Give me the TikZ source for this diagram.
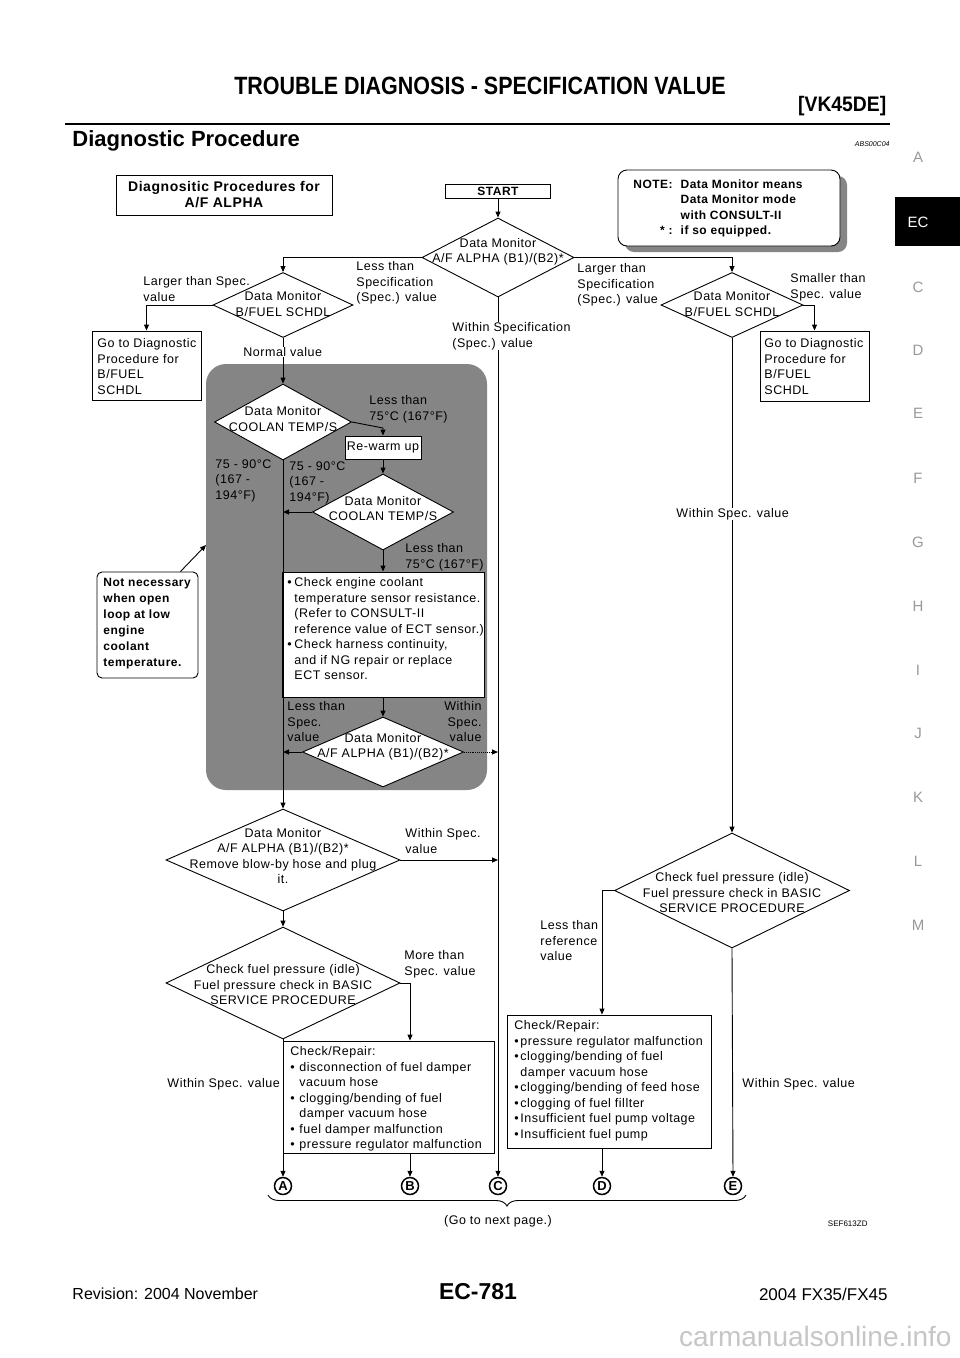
\documentclass[tikz,border=0pt]{standalone}
\usepackage{graphicx}
\usepackage{fontspec}
\setmainfont{Liberation Sans}[LetterSpace=4]
\newfontfamily\headfont{Liberation Sans}
\usetikzlibrary{arrows.meta,shapes.geometric,decorations.pathreplacing}
\definecolor{HatchClr}{gray}{0.52}
\definecolor{TabClr}{gray}{0.6}
\newcommand\flowbullet[1][8pt]{\makebox[#1][l]{\textbullet}}

\begin{document}
\begin{tikzpicture}[x=1pt,y=-1pt,font=\fontsize{12.5}{15.5}\selectfont,line width=0.9pt,
  arr/.style={-{Triangle[length=6pt,width=5pt]}},
  procbox/.style={draw,fill=white,inner sep=0pt},
  decision/.style 2 args={diamond,draw,fill=white,inner sep=0pt,minimum width=#1,minimum height=#2},
  lbl/.style={align=left,anchor=north west,inner sep=0pt},
  lblr/.style={align=right,anchor=north east,inner sep=0pt},
  ctxt/.style={align=center,inner sep=0pt},
  letter/.style={circle,draw,line width=1.5pt,inner sep=0pt,minimum size=17pt,font=\fontsize{13}{13}\selectfont\bfseries},
  tab/.style={text=TabClr,font=\headfont\fontsize{15}{15}\selectfont}]
\useasboundingbox (0,0) rectangle (960,1358);
\fill[white] (0,0) rectangle (960,1358);

\node[font=\headfont\bfseries\fontsize{25}{25}\selectfont] (title) at (480,86) {\scalebox{0.86}[1]{TROUBLE DIAGNOSIS - SPECIFICATION VALUE}};
\node[anchor=east,font=\headfont\bfseries\fontsize{21}{21}\selectfont] (model) at (890,106) {\scalebox{0.92}[1]{[VK45DE]}};
\draw[line width=2.6pt] (65,124) -- (890,124);
\node[anchor=west,inner sep=0pt,font=\headfont\bfseries\fontsize{22}{22}\selectfont] (sect) at (72,141) {Diagnostic Procedure};
\node[anchor=east,inner sep=0pt,font=\headfont\itshape\fontsize{7}{7}\selectfont] (code) at (890,144) {ABS00C04};

\fill[black] (895,197) rectangle (960,246);
\node[text=white,font=\headfont\fontsize{15}{15}\selectfont] (tEC) at (918,222) {EC};
\foreach \ch/\yy in {A/157,C/287,D/350,E/413,F/478,G/542,H/606,I/670,J/733,K/797,L/861,M/925}
  \node[tab] (t\ch) at (918,\yy) {\ch};

\node[anchor=west,inner sep=0pt,font=\headfont\fontsize{16}{16}\selectfont] (rev) at (72,1294) {Revision: 2004 November};
\node[font=\headfont\bfseries\fontsize{23}{23}\selectfont] (page) at (478,1292) {EC-781};
\node[anchor=east,inner sep=0pt,font=\headfont\fontsize{17}{17}\selectfont] (car) at (888,1294) {2004 FX35/FX45};
\node[anchor=east,inner sep=0pt,text=gray!45,font=\headfont\fontsize{28}{28}\selectfont] (wm) at (952,1336) {carmanualsonline.info};

\node[procbox,minimum width=216,minimum height=40,align=center,font=\fontsize{14}{16}\selectfont\bfseries] (ttl) at (224,195) {Diagnositic Procedures for\\A/F ALPHA};
\node[procbox,minimum width=105,minimum height=14,font=\fontsize{12}{12}\selectfont\bfseries] (start) at (498,191) {START};

\fill[HatchClr,rounded corners=9] (625,176) rectangle (847,252);
\node[procbox,rounded corners=9,minimum width=222,minimum height=76] (note) at (729,208) {};
\node[anchor=north west,inner sep=0pt,font=\fontsize{12}{15.5}\selectfont\bfseries] (notetx) at (633,177) {\begin{tabular}{@{}r@{\hspace{8pt}}l@{}}NOTE: & Data Monitor means\\ & Data Monitor mode\\ & with CONSULT-II\\ {*} : & if so equipped.\end{tabular}};

\node[fill=HatchClr,rounded corners=20,minimum width=281,minimum height=426,inner sep=0pt] (zone) at (346.5,577) {};
\coordinate (zin) at (206,545);
\coordinate (k1) at (383,428);

\node[decision={152}{79}] (dA) at (498,257.5) {};
\node[ctxt] (dAt) at (498,252) {Data Monitor\\A/F ALPHA (B1)/(B2)*};
\node[decision={140}{65}] (d2) at (283,305) {};
\node[ctxt] (d2t) at (283,304) {Data Monitor\\B/FUEL SCHDL};
\node[decision={142}{65}] (d8) at (732,305) {};
\node[ctxt] (d8t) at (732,304) {Data Monitor\\B/FUEL SCHDL};
\node[procbox,minimum width=109,minimum height=69] (gL) at (146.5,365.5) {};
\node[lbl] (gLt) at (97,338) {Go to Diagnostic\\Procedure for\\B/FUEL\\SCHDL};
\node[procbox,minimum width=109,minimum height=70] (gR) at (814.5,366) {};
\node[lbl] (gRt) at (764,338) {Go to Diagnostic\\Procedure for\\B/FUEL\\SCHDL};

\node[decision={137}{76}] (d3) at (283,422) {};
\node[ctxt] (d3t) at (283,419) {Data Monitor\\COOLAN TEMP/S};
\node[procbox,minimum width=76,minimum height=23] (rw) at (383,447.5) {Re-warm up};
\node[decision={141}{76}] (d4) at (383,512) {};
\node[ctxt] (d4t) at (383,508.5) {Data Monitor\\COOLAN TEMP/S};
\node[procbox,minimum width=202,minimum height=125] (eb) at (383,634.5) {};
\node[lbl] (ebt) at (287,577) {\flowbullet[7pt]Check engine coolant\\
  \hspace*{7pt}temperature sensor resistance.\\
  \hspace*{7pt}(Refer to CONSULT-II\\
  \hspace*{7pt}reference value of ECT sensor.)\\
  \flowbullet[7pt]Check harness continuity,\\
  \hspace*{7pt}and if NG repair or replace\\
  \hspace*{7pt}ECT sensor.};
\node[decision={161}{70}] (d5) at (383,752) {};
\node[ctxt] (d5t) at (383,747) {Data Monitor\\A/F ALPHA (B1)/(B2)*};

\node[procbox,rounded corners=5,minimum width=101,minimum height=106] (nn) at (147.5,625) {};
\node[lbl,font=\fontsize{12}{16}\selectfont\bfseries] (nnt) at (103,578) {Not necessary\\when open\\loop at low\\engine\\coolant\\temperature.};

\node[decision={234}{102}] (d6) at (283,860) {};
\node[ctxt] (d6t) at (283,856) {Data Monitor\\A/F ALPHA (B1)/(B2)*\\Remove blow-by hose and plug\\it.};
\node[decision={234}{112}] (d7) at (283,983) {};
\node[ctxt] (d7t) at (283,985) {Check fuel pressure (idle)\\Fuel pressure check in BASIC\\SERVICE PROCEDURE};
\node[procbox,minimum width=211,minimum height=112] (bx) at (388.5,1097) {};
\node[lbl] (bxt) at (290,1046) {Check/Repair:\\
  \flowbullet[9pt]disconnection of fuel damper\\
  \hspace*{9pt}vacuum hose\\
  \flowbullet[9pt]clogging/bending of fuel\\
  \hspace*{9pt}damper vacuum hose\\
  \flowbullet[9pt]fuel damper malfunction\\
  \flowbullet[9pt]pressure regulator malfunction};

\node[decision={235}{115}] (d9) at (732,890.5) {};
\node[ctxt] (d9t) at (732,893) {Check fuel pressure (idle)\\Fuel pressure check in BASIC\\SERVICE PROCEDURE};
\node[procbox,minimum width=204,minimum height=133] (bd) at (609,1081.5) {};
\node[lbl] (bdt) at (514,1020) {Check/Repair:\\
  \flowbullet[6pt]pressure regulator malfunction\\
  \flowbullet[6pt]clogging/bending of fuel\\
  \hspace*{6pt}damper vacuum hose\\
  \flowbullet[6pt]clogging/bending of feed hose\\
  \flowbullet[6pt]clogging of fuel fillter\\
  \flowbullet[6pt]Insufficient fuel pump voltage\\
  \flowbullet[6pt]Insufficient fuel pump};

\foreach \nm/\xx in {A/283,B/410,C/498,D/602,E/733}
  \node[letter] (c\nm) at (\xx,1186) {\nm};

\draw[arr] (start) -- (dA);
\draw[arr] (dA.west) -| (d2.north);
\draw[arr] (dA.east) -| (d8.north);
\draw[arr] (dA.south) -- (cC.north);
\draw[arr] (d2.west) -| (gL.north);
\draw[arr] (d8.east) -| (gR.north);
\draw[arr] (d2.south) -- (d3.north);
\draw[arr] (d3.east) -- (k1) -- (rw.north);
\draw[arr] (rw.south) -- (d4.north);
\draw[arr] (d4.south) -- (eb.north);
\draw[arr] (eb.south) -- (d5.north);
\draw[arr] (d4.west) -- (d4.west -| d3.south);
\draw[arr] (d5.west) -- (d5.west -| d3.south);
\draw[arr,densely dotted] (d5.east) -- (d5.east -| cC.north);
\draw[arr] (d3.south) -- (d6.north);
\draw[arr] (d6.east) -- (d6.east -| cC.north);
\draw[arr] (d6.south) -- (d7.north);
\draw[arr] (d7.east) -| (bx.north -| cB.north);
\draw[arr] (bx.south -| cB.north) -- (cB.north);
\draw[arr] (d7.south) -- (cA.north);
\draw[arr] (d8.south) -- (d9.north);
\draw[arr] (d9.west) -| (bd.north -| cD.north);
\draw[arr] (bd.south -| cD.north) -- (cD.north);
\draw[arr] (d9.south) -- (cE.north);
\draw[arr] ([xshift=-18pt]nn.north east) -- (zin);

\node[lbl] (l1) at (356,261) {Less than\\Specification\\(Spec.) value};
\node[lbl] (l2) at (143,276) {Larger than Spec.\\value};
\node[lbl,fill=white] (l3) at (243,347) {Normal value};
\node[lbl,fill=white] (l4) at (452,322) {Within Specification\\(Spec.) value};
\node[lbl] (l5) at (577,263) {Larger than\\Specification\\(Spec.) value};
\node[lbl] (l6) at (790,273) {Smaller than\\Spec. value};
\node[lbl] (l7) at (369,395) {Less than\\75°C (167°F)};
\node[lbl] (l8) at (215,459) {75 - 90°C\\(167 -\\194°F)};
\node[lbl] (l9) at (289,461) {75 - 90°C\\(167 -\\194°F)};
\node[lbl] (l10) at (405,543) {Less than\\75°C (167°F)};
\node[lbl] (l11) at (287,701) {Less than\\Spec.\\value};
\node[lblr] (l12) at (482,701) {Within\\Spec.\\value};
\node[lbl,fill=white] (l13) at (676,508) {Within Spec. value};
\node[lbl] (l14) at (405,828) {Within Spec.\\value};
\node[lbl] (l15) at (404,950) {More than\\Spec. value};
\node[lbl] (l16) at (540,920) {Less than\\reference\\value};
\node[lbl] (l17) at (167,1078) {Within Spec. value};
\node[lbl] (l18) at (742,1078) {Within Spec. value};

\draw[decorate,decoration={brace,mirror,amplitude=11pt}] (268,1195) -- (746,1195);
\node (next) at (498,1221) {(Go to next page.)};
\node[anchor=east,inner sep=0pt,font=\headfont\fontsize{8}{8}\selectfont] (fig) at (868,1224) {SEF613ZD};
\end{tikzpicture}
\end{document}
